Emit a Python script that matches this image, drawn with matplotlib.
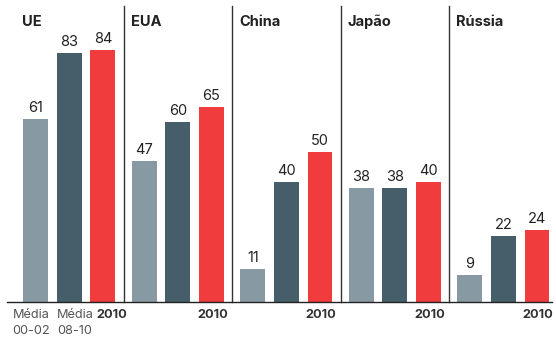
import matplotlib.pyplot as plt
import numpy as np

plt.rcParams['font.family'] = ['Inter', 'DejaVu Sans']

# exportações por região (índice), três períodos
regions = ['UE', 'EUA', 'China', 'Japão', 'Rússia']
media_00_02 = [61, 47, 11, 38, 9]
media_08_10 = [83, 60, 40, 38, 22]
ano_2010 = [84, 65, 50, 40, 24]

colors = ['#879aa4', '#465e6a', '#f03c3c']
series = [media_00_02, media_08_10, ano_2010]

step = 0.309   # distance between bars in a group
width = 0.23
px = 1 / 108.5  # one pixel in x data units

fig = plt.figure(figsize=(5.56, 3.41), dpi=100)
ax = fig.add_axes([0, 0, 1, 1])
ax.set_xlim(-0.64, 4.484)
ax.set_ylim(-13, 100.67)
ax.axis('off')

x = np.arange(len(regions))
for k, (vals, c) in enumerate(zip(series, colors)):
    pos = x + (k - 1) * step
    ax.bar(pos, vals, width=width, color=c, zorder=2)
    for p, v in zip(pos, vals):
        ax.annotate(str(v), (p, v), xytext=(0, 3), textcoords='offset points',
                    ha='center', va='bottom', fontsize=10.5, color='#222222')

# panel titles
for i, name in enumerate(regions):
    ax.text(i - step - width / 2 - px, 93.3, name, ha='left', va='center',
            fontsize=10.5, fontweight='bold', color='#222222')

# separators and baseline
for i in range(len(regions) - 1):
    ax.plot([i + 0.5, i + 0.5], [0, 98.7], color='#333333', lw=1, zorder=1)
ax.plot([-0.58, 4.45], [0, 0], color='#222222', lw=1, zorder=3)

# period labels
fs = 9.2
ax.text(-step - width / 2 - 11 * px, -2.4, 'Média\n00-02', ha='left', va='top',
        fontsize=fs, color='#555555', linespacing=1.38)
ax.text(-width / 2, -2.4, 'Média\n08-10', ha='left', va='top',
        fontsize=fs, color='#555555', linespacing=1.38)
for i in range(len(regions)):
    if i == 0:
        ax.text(step - width / 2 + 6 * px, -2.4, '2010', ha='left', va='top',
                fontsize=fs, fontweight='bold', color='#333333')
    else:
        ax.text(i + step + px, -2.4, '2010', ha='center', va='top',
                fontsize=fs, fontweight='bold', color='#333333')

fig.savefig('out.png', dpi=100)
